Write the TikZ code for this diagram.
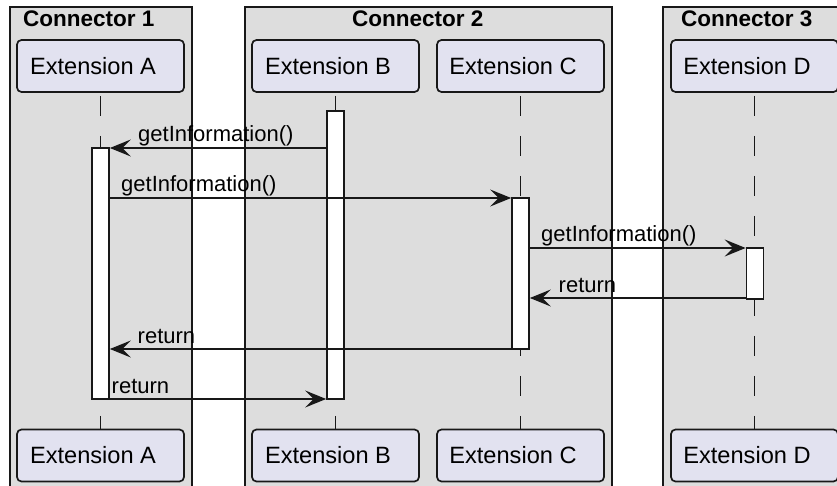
\documentclass[tikz,border=0pt]{standalone}
\usepackage{fontspec}
\setmainfont{Liberation Sans}
\usetikzlibrary{arrows.meta}
\definecolor{grpfill}{HTML}{DDDDDD}
\definecolor{partfill}{HTML}{E2E2F0}
\definecolor{ink}{HTML}{181818}
% participant label, set a little left of the box centre
\newcommand{\partlabel}[1]{#1\hspace*{15pt}}
\begin{document}
\begin{tikzpicture}[x=1pt,y=-1pt,
  group/.style={draw=ink, fill=grpfill, line width=1.7pt},
  grouptitle/.style={anchor=base west, inner sep=0pt, font=\fontsize{22.5}{27}\selectfont\bfseries},
  part/.style={draw=ink, fill=partfill, line width=1.7pt, rounded corners=4.5pt,
    minimum width=167pt, minimum height=52pt, inner sep=0pt, font=\fontsize{23.6}{28}\selectfont},
  life/.style={draw=ink, line width=1.7pt, dash pattern=on 20pt off 20pt, dash phase=37pt},
  act/.style={draw=ink, fill=white, line width=1.7pt, minimum width=17pt, inner sep=0pt},
  msg/.style={draw=ink, line width=1.7pt, -{Stealth[length=21pt,width=17pt,inset=8.5pt]}},
  lbl/.style={anchor=base west, inner sep=0pt, font=\fontsize{22}{26}\selectfont}]

\useasboundingbox (0,0) rectangle (837,486);
\clip (0,0) rectangle (837,486);
\fill[white] (0,0) rectangle (837,486);

% connector groups
\draw[group] (10,7) rectangle (192,500);
\draw[group] (245,7) rectangle (612,500);
\draw[group] (663,7) rectangle (846,500);
\node[grouptitle] (g1) at (23,27) {Connector 1};
\node[grouptitle] (g2) at (352,27) {Connector 2};
\node[grouptitle] (g3) at (681,27) {Connector 3};

% participants, top and bottom
\node[part] (A)  at (100.5,66)  {\partlabel{Extension A}};
\node[part] (B)  at (335.5,66)  {\partlabel{Extension B}};
\node[part] (C)  at (520.5,66)  {\partlabel{Extension C}};
\node[part] (D)  at (754.5,66)  {\partlabel{Extension D}};
\node[part] (A2) at (100.5,455.5) {\partlabel{Extension A}};
\node[part] (B2) at (335.5,455.5) {\partlabel{Extension B}};
\node[part] (C2) at (520.5,455.5) {\partlabel{Extension C}};
\node[part] (D2) at (754.5,455.5) {\partlabel{Extension D}};

% lifelines
\draw[life] (A.south) -- (A2.north);
\draw[life] (B.south) -- (B2.north);
\draw[life] (C.south) -- (C2.north);
\draw[life] (D.south) -- (D2.north);

% activations
\node[act, minimum height=251pt] (actA) at (100.5,273.5) {};
\node[act, minimum height=288pt] (actB) at (335.5,255) {};
\node[act, minimum height=151pt] (actC) at (520.5,273.5) {};
\node[act, minimum height=51pt]  (actD) at (755,273.5) {};

% message rows
\coordinate (r1) at (0,148);
\coordinate (r2) at (0,198);
\coordinate (r3) at (0,248);
\coordinate (r4) at (0,298);
\coordinate (r5) at (0,349);
\coordinate (r6) at (0,399);

\draw[msg] (actB.west |- r1) -- (actA.east |- r1);
\draw[msg] (actA.east |- r2) -- (actC.west |- r2);
\draw[msg] (actC.east |- r3) -- (actD.west |- r3);
\draw[msg] (actD.west |- r4) -- (actC.east |- r4);
\draw[msg] (actC.west |- r5) -- (actA.east |- r5);
\draw[msg] (actA.east |- r6) -- (actB.west |- r6);

\node[lbl] (l1) at (138,142) {getInformation()};
\node[lbl] (l2) at (121,192) {getInformation()};
\node[lbl] (l3) at (541,242) {getInformation()};
\node[lbl] (l4) at (558.5,292) {return};
\node[lbl] (l5) at (137.5,343) {return};
\node[lbl] (l6) at (111.5,393) {return};
\end{tikzpicture}
\end{document}
